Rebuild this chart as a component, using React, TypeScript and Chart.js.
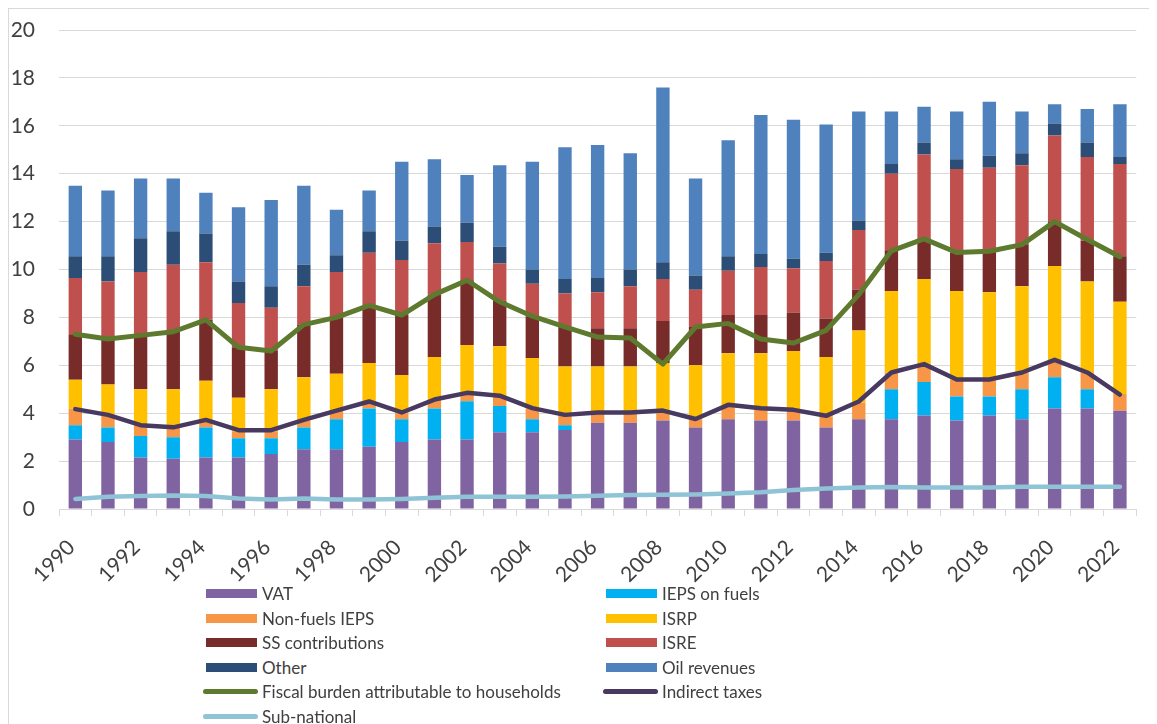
import React, { useEffect, useRef } from "react";
import { Chart, registerables } from "chart.js";

Chart.register(...registerables);

const years = [
  "1990", "1991", "1992", "1993", "1994", "1995", "1996", "1997", "1998", "1999",
  "2000", "2001", "2002", "2003", "2004", "2005", "2006", "2007", "2008", "2009",
  "2010", "2011", "2012", "2013", "2014", "2015", "2016", "2017", "2018", "2019",
  "2020", "2021", "2022",
];

const vat = [2.9, 2.8, 2.15, 2.1, 2.15, 2.15, 2.3, 2.5, 2.5, 2.6, 2.8, 2.9, 2.9, 3.2, 3.2, 3.3, 3.6, 3.6, 3.7, 3.4, 3.75, 3.7, 3.7, 3.4, 3.75, 3.75, 3.9, 3.7, 3.9, 3.75, 4.2, 4.2, 4.1];
const iepsFuels = [0.6, 0.6, 0.9, 0.9, 1.25, 0.8, 0.65, 0.9, 1.25, 1.6, 0.95, 1.3, 1.6, 1.1, 0.55, 0.2, 0, 0, 0, 0, 0, 0, 0, 0, 0, 1.25, 1.4, 1.0, 0.8, 1.25, 1.3, 0.8, 0];
const nonFuelsIeps = [0.7, 0.5, 0.45, 0.45, 0.3, 0.3, 0.3, 0.3, 0.35, 0.3, 0.25, 0.35, 0.35, 0.4, 0.45, 0.45, 0.4, 0.4, 0.35, 0.35, 0.55, 0.55, 0.4, 0.45, 0.7, 0.7, 0.75, 0.7, 0.65, 0.7, 0.75, 0.7, 0.7];
const isrp = [1.2, 1.3, 1.5, 1.55, 1.65, 1.4, 1.75, 1.8, 1.55, 1.6, 1.6, 1.8, 2.0, 2.1, 2.1, 2.0, 1.95, 1.95, 2.05, 2.25, 2.2, 2.25, 2.5, 2.5, 3.0, 3.4, 3.55, 3.7, 3.7, 3.6, 3.9, 3.8, 3.85];
const ssContributions = [1.9, 1.9, 2.25, 2.4, 2.55, 2.1, 1.6, 2.2, 2.35, 2.4, 2.5, 2.6, 2.7, 1.9, 1.75, 1.65, 1.6, 1.6, 1.75, 1.6, 1.6, 1.6, 1.6, 1.6, 1.7, 1.7, 1.7, 1.6, 1.75, 1.75, 1.85, 1.7, 1.9];
const isre = [2.35, 2.4, 2.65, 2.8, 2.4, 1.85, 1.8, 1.6, 1.9, 2.2, 2.3, 2.15, 1.6, 1.55, 1.35, 1.4, 1.5, 1.75, 1.75, 1.55, 1.85, 2.0, 1.85, 2.4, 2.5, 3.2, 3.5, 3.5, 3.45, 3.3, 3.6, 3.5, 3.85];
const other = [0.9, 1.05, 1.4, 1.4, 1.2, 0.9, 0.9, 0.9, 0.7, 0.9, 0.8, 0.7, 0.8, 0.7, 0.6, 0.6, 0.6, 0.7, 0.7, 0.6, 0.6, 0.55, 0.4, 0.35, 0.4, 0.4, 0.5, 0.4, 0.5, 0.5, 0.5, 0.6, 0.3];
const oilRevenues = [2.95, 2.75, 2.5, 2.2, 1.7, 3.1, 3.6, 3.3, 1.9, 1.7, 3.3, 2.8, 2.0, 3.4, 4.5, 5.5, 5.55, 4.85, 7.3, 4.05, 4.85, 5.8, 5.8, 5.35, 4.55, 2.2, 1.5, 2.0, 2.25, 1.75, 0.8, 1.4, 2.2];

const fiscalBurden = [7.3, 7.1, 7.25, 7.4, 7.9, 6.75, 6.6, 7.7, 8.0, 8.5, 8.1, 8.95, 9.55, 8.65, 8.05, 7.6, 7.18, 7.14, 6.05, 7.6, 7.75, 7.1, 6.93, 7.46, 8.95, 10.78, 11.28, 10.71, 10.76, 11.04, 12.0, 11.25, 10.53];
const indirectTaxes = [4.17, 3.93, 3.5, 3.41, 3.72, 3.29, 3.29, 3.72, 4.11, 4.49, 4.03, 4.57, 4.85, 4.73, 4.21, 3.93, 4.03, 4.03, 4.11, 3.76, 4.35, 4.21, 4.14, 3.89, 4.49, 5.7, 6.05, 5.41, 5.41, 5.7, 6.23, 5.7, 4.78];
const subNational = [0.42, 0.51, 0.54, 0.56, 0.54, 0.44, 0.4, 0.44, 0.4, 0.4, 0.42, 0.47, 0.51, 0.51, 0.51, 0.52, 0.55, 0.58, 0.59, 0.61, 0.65, 0.7, 0.79, 0.86, 0.9, 0.92, 0.9, 0.9, 0.9, 0.93, 0.93, 0.93, 0.93];

const yTicks = [0, 2, 4, 6, 8, 10, 12, 14, 16, 18, 20];

const barSeries = [
  { label: "VAT", data: vat, color: "#8064A2" },
  { label: "IEPS on fuels", data: iepsFuels, color: "#00B0F0" },
  { label: "Non-fuels IEPS", data: nonFuelsIeps, color: "#F79646" },
  { label: "ISRP", data: isrp, color: "#FFC000" },
  { label: "SS contributions", data: ssContributions, color: "#772C2A" },
  { label: "ISRE", data: isre, color: "#C0504D" },
  { label: "Other", data: other, color: "#2C4D75" },
  { label: "Oil revenues", data: oilRevenues, color: "#4F81BD" },
];

const lineSeries = [
  { label: "Fiscal burden attributable to households", data: fiscalBurden, color: "#5E7A2E", width: 5 },
  { label: "Indirect taxes", data: indirectTaxes, color: "#47395F", width: 4.5 },
  { label: "Sub-national", data: subNational, color: "#8FC3D6", width: 4.5 },
];

const FONT = "Lato, 'Open Sans', sans-serif";

export default function App() {
  const canvasRef = useRef<HTMLCanvasElement | null>(null);

  useEffect(() => {
    document.documentElement.style.overflow = "hidden";
    const canvas = canvasRef.current;
    if (!canvas) return;
    const datasets: any[] = [
      ...barSeries.map((s) => ({
        type: "bar",
        label: s.label,
        data: s.data,
        backgroundColor: s.color,
        borderWidth: 0,
        barPercentage: 0.41,
        categoryPercentage: 1,
        stack: "bars",
        order: 2,
      })),
      ...lineSeries.map((s, i) => ({
        type: "line",
        label: s.label,
        data: s.data,
        borderColor: s.color,
        backgroundColor: s.color,
        borderWidth: s.width,
        pointRadius: 0,
        pointHoverRadius: 0,
        tension: 0,
        fill: false,
        borderCapStyle: "round",
        borderJoinStyle: "round",
        stack: "line" + i,
        order: 1,
      })),
    ];
    const chart = new Chart(canvas, {
      type: "bar",
      data: { labels: years, datasets },
      options: {
        animation: false,
        responsive: false,
        maintainAspectRatio: false,
        events: [],
        layout: { padding: { top: 21, right: 17, left: 0, bottom: 0 } },
        plugins: { legend: { display: false }, tooltip: { enabled: false } },
        scales: {
          x: {
            stacked: true,
            offset: true,
            grid: {
              offset: true,
              drawOnChartArea: false,
              drawTicks: true,
              tickLength: 7,
              color: "#d9d9d9",
              lineWidth: 1,
            },
            border: { display: true, color: "#d9d9d9", width: 1 },
            ticks: {
              autoSkip: false,
              minRotation: 45,
              maxRotation: 45,
              padding: 19,
              labelOffset: -4,
              color: "#404040",
              font: { family: FONT, size: 21 },
              callback: (_v: any, i: number) => (i % 2 === 0 ? years[i] : ""),
            },
            afterFit: (s: any) => {
              s.height = 75;
            },
          },
          y: {
            stacked: true,
            min: yTicks[0],
            max: yTicks[yTicks.length - 1],
            afterBuildTicks: (s: any) => {
              s.ticks = yTicks.map((v) => ({ value: v }));
            },
            grid: {
              color: "#d9d9d9",
              drawTicks: true,
              tickLength: 24,
              tickColor: "rgba(0,0,0,0)",
              lineWidth: 1,
            },
            border: { display: false },
            ticks: {
              padding: 0,
              color: "#404040",
              font: { family: FONT, size: 21 },
            },
            afterFit: (s: any) => {
              s.width = 50;
            },
          },
        },
      } as any,
    });
    return () => chart.destroy();
  }, []);

  const legendItems = [
    ...barSeries.map((s) => ({ label: s.label, color: s.color, kind: "bar" })),
    ...lineSeries.map((s) => ({ label: s.label, color: s.color, kind: "line" })),
  ];
  const colX = [197, 597];
  const rowTop = 584.5;
  const rowStep = 24.5;

  return (
    <div
      style={{
        position: "relative",
        width: 1160,
        height: 740,
        boxSizing: "border-box",
        borderTop: "1px solid #d9d9d9",
        borderLeft: "1px solid #d9d9d9",
        fontFamily: FONT,
      }}
    >
      <canvas
        ref={canvasRef}
        width={1148}
        height={575}
        style={{ position: "absolute", left: 0, top: 0, width: 1148, height: 575 }}
      />
      {legendItems.map((it, i) => {
        const col = i % 2;
        const row = Math.floor(i / 2);
        return (
          <div
            key={it.label}
            style={{
              position: "absolute",
              left: colX[col],
              top: rowTop + row * rowStep - 12,
              height: 24,
              display: "flex",
              alignItems: "center",
              whiteSpace: "nowrap",
              fontSize: 17,
              color: "#404040",
            }}
          >
            {it.kind === "bar" ? (
              <span style={{ display: "inline-block", width: 51, height: 9, background: it.color, marginRight: 5 }} />
            ) : (
              <span
                style={{
                  display: "inline-block",
                  width: 55,
                  height: 5,
                  borderRadius: 3,
                  background: it.color,
                  marginLeft: -3,
                  marginRight: 4,
                }}
              />
            )}
            <span>{it.label}</span>
          </div>
        );
      })}
    </div>
  );
}
